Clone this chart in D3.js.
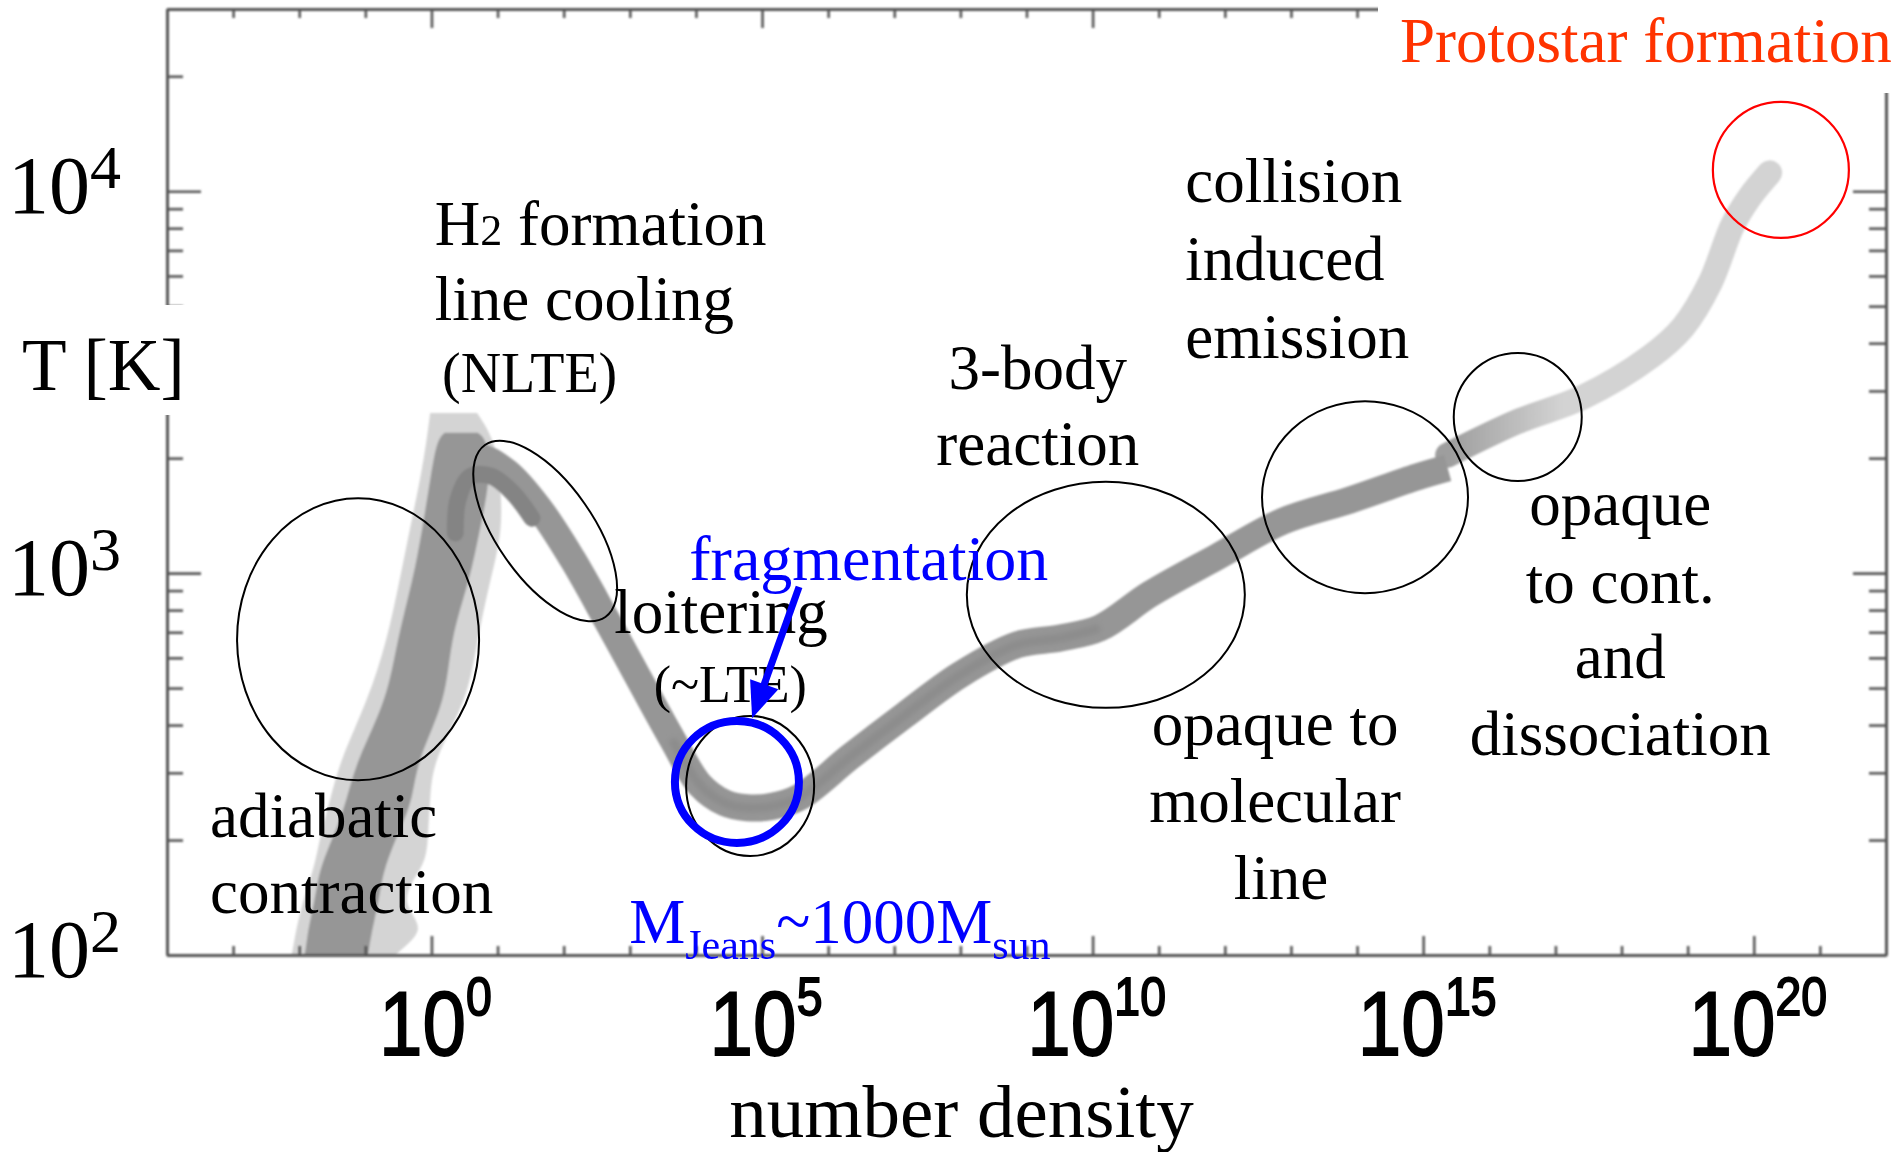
<!DOCTYPE html>
<html>
<head>
<meta charset="utf-8">
<script src="https://cdn.jsdelivr.net/npm/d3@7"></script>
<style>
  body { margin: 0; background: #fff; }
  svg { display: block; }
</style>
</head>
<body>
<div id="chart"></div>
<script>
// Thermal evolution of a collapsing primordial cloud: temperature vs number density

// ---- data ----
// main track (centre of the grey band): log10 n and T [K]
const trackLogN = [0.46, 0.70, 1.14, 1.64, 2.13, 2.64, 3.14, 3.64, 4.06, 4.44, 4.77, 5.15, 5.57, 6.33, 7.16, 7.99, 8.86, 9.51, 10.11, 10.87, 11.88, 12.88, 13.89, 14.91, 15.37];
const trackT = [1810, 2010, 1840, 1470, 1090, 760, 528, 368, 279, 250, 243, 245, 259, 330, 425, 541, 649, 676, 718, 881, 1102, 1368, 1553, 1786, 1884];

// last part of the track, drawn lighter
const endLogN = [15.37, 16.42, 17.42, 18.43, 18.93, 19.34, 19.68, 19.94, 20.24];
const endT = [2037, 2489, 2891, 3680, 4406, 5754, 8147, 9660, 11170];

// adiabatic branch: outer spread of the runs (log10 n at left / right edge)
const spreadT = [90, 100, 116, 135, 157, 177, 213, 255, 324, 466, 668, 960, 1297, 1754, 2233, 2625];
const spreadLeft = [-2.17, -2.11, -2.05, -1.96, -1.84, -1.75, -1.66, -1.53, -1.38, -0.96, -0.67, -0.48, -0.33, -0.17, -0.07, -0.02];
const spreadRight = [-0.66, -0.60, -0.05, -0.45, -0.29, -0.07, -0.05, -0.02, 0.02, 0.55, 0.69, 0.89, 1.08, 1.04, 0.96, 0.69];

// adiabatic branch: inner band
const coreT = [90, 100, 116, 135, 157, 177, 213, 255, 324, 466, 668, 960, 1297, 1754, 2233, 2330];
const coreLeft = [-1.97, -1.91, -1.87, -1.78, -1.72, -1.64, -1.44, -1.28, -1.13, -0.67, -0.52, -0.28, -0.14, -0.02, 0.08, 0.20];
const coreRight = [-1.02, -0.96, -0.90, -0.81, -0.75, -0.67, -0.48, -0.28, -0.22, 0.23, 0.28, 0.58, 0.73, 0.89, 0.85, 0.70];

// darkest part around the H2 peak
const hookLogN = [0.36, 0.40, 0.58, 0.89, 1.22, 1.52];
const hookT = [1274, 1553, 1786, 1796, 1630, 1393];

// axes
const xDecades = d3.range(-4, 23);
const xLabelPowers = [0, 5, 10, 15, 20];
const yLabelPowers = [2, 3, 4];

// ---- layout ----
const width = 1903;
const height = 1152;
const marginTop = 9;
const marginRight = 17;
const marginBottom = 197;
const marginLeft = 167;

const x = d3.scaleLog().domain([1e-4, 1e22]).range([marginLeft, width - marginRight]);
const y = d3.scaleLog().domain([100, 30000]).range([height - marginBottom, marginTop]);
const px = l => x(Math.pow(10, l));

const svg = d3.select("#chart").append("svg")
    .attr("width", width)
    .attr("height", height)
    .style("font-family", "'Liberation Serif', 'Times New Roman', serif");

const defs = svg.append("defs");
defs.append("clipPath").attr("id", "plot")
  .append("rect")
    .attr("x", marginLeft).attr("y", marginTop)
    .attr("width", width - marginRight - marginLeft)
    .attr("height", height - marginBottom - marginTop);
defs.append("filter").attr("id", "soft")
  .append("feGaussianBlur").attr("stdDeviation", 1.2);
defs.append("filter").attr("id", "softer")
  .append("feGaussianBlur").attr("stdDeviation", 2.5);
const grad = defs.append("linearGradient")
    .attr("id", "fade")
    .attr("gradientUnits", "userSpaceOnUse")
    .attr("x1", px(15.4)).attr("x2", px(17.1))
    .attr("y1", 0).attr("y2", 0);
grad.append("stop").attr("offset", 0).attr("stop-color", "#9e9e9e");
grad.append("stop").attr("offset", 1).attr("stop-color", "#d3d3d3");

// ---- the grey band ----
const band = svg.append("g").attr("clip-path", "url(#plot)")
  .append("g").attr("filter", "url(#soft)");

const sideArea = d3.area()
    .curve(d3.curveBasis)
    .y(d => y(d.t))
    .x0(d => px(d.l))
    .x1(d => px(d.r));

const spread = spreadT.map((t, i) => ({t: t, l: spreadLeft[i], r: spreadRight[i]}));
const core = coreT.map((t, i) => ({t: t, l: coreLeft[i], r: coreRight[i]}));

band.append("path")
    .attr("d", sideArea(spread))
    .attr("fill", "#d4d4d4");

const line = d3.line()
    .curve(d3.curveCatmullRom.alpha(0.5))
    .x(d => px(d.n))
    .y(d => y(d.t));

const endTrack = endLogN.map((n, i) => ({n: n, t: endT[i]}));
band.append("path")
    .attr("d", line(endTrack))
    .attr("fill", "none")
    .attr("stroke", "url(#fade)")
    .attr("stroke-width", 25)
    .attr("stroke-linecap", "round")
    .attr("stroke-linejoin", "round");

band.append("path")
    .attr("d", sideArea(core))
    .attr("fill", "#969696");

const track = trackLogN.map((n, i) => ({n: n, t: trackT[i]}));
band.append("path")
    .attr("d", line(track))
    .attr("fill", "none")
    .attr("stroke", "#969696")
    .attr("stroke-width", 27)
    .attr("stroke-linecap", "butt")
    .attr("stroke-linejoin", "round");

// slightly darker centre of the track
band.append("path")
    .attr("d", line(track.slice(7, 19)))
    .attr("fill", "none")
    .attr("stroke", "#8c8c8c")
    .attr("stroke-width", 9)
    .attr("filter", "url(#softer)");

const hook = hookLogN.map((n, i) => ({n: n, t: hookT[i]}));
band.append("path")
    .attr("d", line(hook))
    .attr("fill", "none")
    .attr("stroke", "#848484")
    .attr("stroke-width", 17)
    .attr("stroke-linecap", "round");

// ---- axes (frame with ticks on all four sides) ----
const minorX = xDecades.filter(d => d % 5 !== 0).map(d => Math.pow(10, d));
const majorX = xDecades.filter(d => d % 5 === 0).map(d => Math.pow(10, d));
const minorY = [];
const majorY = [];
for (let k = 2; k <= 4; k++) {
  for (let m = 1; m <= 9; m++) {
    const v = m * Math.pow(10, k);
    if (v > 30000) continue;
    (m === 1 ? majorY : minorY).push(v);
  }
}

const axisColor = "#555";
function styleAxis(g) {
  g.selectAll("path.domain").attr("stroke", axisColor).attr("stroke-width", 3);
  g.selectAll(".tick line").attr("stroke", axisColor).attr("stroke-width", 2.6);
  g.selectAll(".tick text").remove();
}

const axes = svg.append("g").attr("filter", "url(#soft)");
const bottomY = height - marginBottom;
const rightX = width - marginRight;

axes.append("g").attr("transform", `translate(0,${bottomY})`)
    .call(d3.axisBottom(x).tickValues(minorX).tickSize(-9).tickSizeOuter(0)).call(styleAxis);
axes.append("g").attr("transform", `translate(0,${bottomY})`)
    .call(d3.axisBottom(x).tickValues(majorX).tickSize(-19).tickSizeOuter(0)).call(styleAxis);
axes.append("g").attr("transform", `translate(0,${marginTop})`)
    .call(d3.axisTop(x).tickValues(minorX).tickSize(-9).tickSizeOuter(0)).call(styleAxis);
axes.append("g").attr("transform", `translate(0,${marginTop})`)
    .call(d3.axisTop(x).tickValues(majorX).tickSize(-19).tickSizeOuter(0)).call(styleAxis);
axes.append("g").attr("transform", `translate(${marginLeft},0)`)
    .call(d3.axisLeft(y).tickValues(minorY).tickSize(-16).tickSizeOuter(0)).call(styleAxis);
axes.append("g").attr("transform", `translate(${marginLeft},0)`)
    .call(d3.axisLeft(y).tickValues(majorY).tickSize(-34).tickSizeOuter(0)).call(styleAxis);
axes.append("g").attr("transform", `translate(${rightX},0)`)
    .call(d3.axisRight(y).tickValues(minorY).tickSize(-17).tickSizeOuter(0)).call(styleAxis);
axes.append("g").attr("transform", `translate(${rightX},0)`)
    .call(d3.axisRight(y).tickValues(majorY).tickSize(-33).tickSizeOuter(0)).call(styleAxis);

// x tick labels: 10^k, in a tall narrow sans face
const xLabels = svg.append("g")
    .style("font-family", "'Liberation Sans', Arial, sans-serif")
    .attr("fill", "#000")
    .attr("stroke", "#000")
    .attr("stroke-width", 1.8);
xLabelPowers.forEach(p => {
  const t = xLabels.append("text")
      .attr("transform", `translate(${x(Math.pow(10, p)) + 4},${bottomY + 100}) scale(0.86,1)`)
      .attr("text-anchor", "middle");
  t.append("tspan").attr("font-size", 91).text("10");
  t.append("tspan").attr("font-size", 54).attr("dy", -40).text(p);
});

// y tick labels: 10^k
yLabelPowers.forEach(p => {
  const t = svg.append("text")
      .attr("x", 8)
      .attr("y", y(Math.pow(10, p)) + 22);
  t.append("tspan").attr("font-size", 82).text("10");
  t.append("tspan").attr("font-size", 62).attr("dy", -25).text(p);
});

// axis titles
svg.append("text")
    .attr("x", x(1e8) + 1)
    .attr("y", height - 15)
    .attr("text-anchor", "middle")
    .attr("font-size", 75)
    .text("number density");

svg.append("rect")
    .attr("x", 0).attr("y", 305).attr("width", 195).attr("height", 110)
    .attr("fill", "#fff");
svg.append("text")
    .attr("x", 22)
    .attr("y", 390)
    .attr("font-size", 73)
    .text("T [K]");

// ---- annotations (positions in data units: log10 n, T) ----
const rings = [
  {n: -1.11, t: 671, rx: 121, ry: 141, rot: 0, color: "#000", w: 2},
  {n: 1.72, t: 1289, rx: 105, ry: 48, rot: 55, color: "#000", w: 2},
  {n: 4.82, t: 277, rx: 64, ry: 70, rot: 0, color: "#000", w: 2},
  {n: 10.20, t: 877, rx: 139, ry: 113, rot: 0, color: "#000", w: 2},
  {n: 14.12, t: 1581, rx: 103, ry: 96, rot: 0, color: "#000", w: 2},
  {n: 16.43, t: 2564, rx: 64, ry: 64, rot: 0, color: "#000", w: 2},
  {n: 20.41, t: 11370, rx: 68, ry: 68, rot: 0, color: "#ff0000", w: 2.2},
  {n: 4.62, t: 284, rx: 62, ry: 61, rot: 0, color: "#0000ff", w: 8}
];
svg.append("g").selectAll("ellipse")
  .data(rings)
  .join("ellipse")
    .attr("cx", 0).attr("cy", 0)
    .attr("rx", d => d.rx).attr("ry", d => d.ry)
    .attr("transform", d => `translate(${px(d.n)},${y(d.t)}) rotate(${d.rot})`)
    .attr("fill", "none")
    .attr("stroke", d => d.color)
    .attr("stroke-width", d => d.w);

// black text blocks: [log10 n, T, anchor, size, text]
const notes = [
  [11.40, 9376, "start", 63, "collision"],
  [11.40, 5856, "start", 63, "induced"],
  [11.40, 3655, "start", 63, "emission"],
  [0.05, 4603, "start", 63, "line cooling"],
  [0.16, 2979, "start", 56, "(NLTE)"],
  [9.17, 3033, "middle", 63, "3-body"],
  [9.17, 1919, "middle", 63, "reaction"],
  [4.38, 697, "middle", 63, "loitering"],
  [4.52, 460, "middle", 52, "(~LTE)"],
  [-3.35, 204, "start", 63, "adiabatic"],
  [-3.35, 129, "start", 63, "contraction"],
  [12.76, 355, "middle", 63, "opaque to"],
  [12.76, 223, "middle", 63, "molecular"],
  [12.85, 140, "middle", 63, "line"],
  [17.98, 1337, "middle", 63, "opaque"],
  [17.98, 835, "middle", 63, "to cont."],
  [17.98, 531, "middle", 63, "and"],
  [17.98, 334, "middle", 63, "dissociation"]
];
svg.append("g").selectAll("text")
  .data(notes)
  .join("text")
    .attr("x", d => px(d[0]))
    .attr("y", d => y(d[1]))
    .attr("text-anchor", d => d[2])
    .attr("font-size", d => d[3])
    .text(d => d[4]);

const h2 = svg.append("text")
    .attr("x", px(0.05))
    .attr("y", y(7228))
    .attr("font-size", 63);
h2.append("tspan").text("H");
h2.append("tspan").attr("font-size", 44).text("2");
h2.append("tspan").text(" formation");

// fragmentation arrow and Jeans mass
svg.append("text")
    .attr("x", px(3.90))
    .attr("y", y(960))
    .attr("font-size", 64)
    .attr("fill", "#0000ff")
    .text("fragmentation");

const arrowFrom = [5.56, 920];
const arrowTo = [4.85, 417];
const ax1 = px(arrowFrom[0]), ay1 = y(arrowFrom[1]);
const ax2 = px(arrowTo[0]), ay2 = y(arrowTo[1]);
const len = Math.hypot(ax2 - ax1, ay2 - ay1);
const ux = (ax2 - ax1) / len, uy = (ay2 - ay1) / len;
const headLen = 36, headHalf = 15;
const bx = ax2 - ux * headLen, by = ay2 - uy * headLen;
svg.append("line")
    .attr("x1", ax1).attr("y1", ay1)
    .attr("x2", bx + ux * 4).attr("y2", by + uy * 4)
    .attr("stroke", "#0000ff")
    .attr("stroke-width", 7);
svg.append("path")
    .attr("d", `M${ax2},${ay2}L${bx - uy * headHalf},${by + ux * headHalf}L${bx + uy * headHalf},${by - ux * headHalf}Z`)
    .attr("fill", "#0000ff");

const mj = svg.append("text")
    .attr("x", px(2.99))
    .attr("y", y(107.5))
    .attr("font-size", 63)
    .attr("fill", "#0000ff");
mj.append("tspan").text("M");
mj.append("tspan").attr("font-size", 42).attr("dy", 16).text("Jeans");
mj.append("tspan").attr("dy", -16).text("~1000M");
mj.append("tspan").attr("font-size", 42).attr("dy", 16).text("sun");

// protostar label sits on a white box over the frame corner
svg.append("rect")
    .attr("x", 1378).attr("y", 0).attr("width", width - 1378).attr("height", 93)
    .attr("fill", "#fff");
svg.append("text")
    .attr("x", px(14.65))
    .attr("y", y(21770))
    .attr("font-size", 63)
    .attr("fill", "#ff3300")
    .text("Protostar formation");
</script>
</body>
</html>
